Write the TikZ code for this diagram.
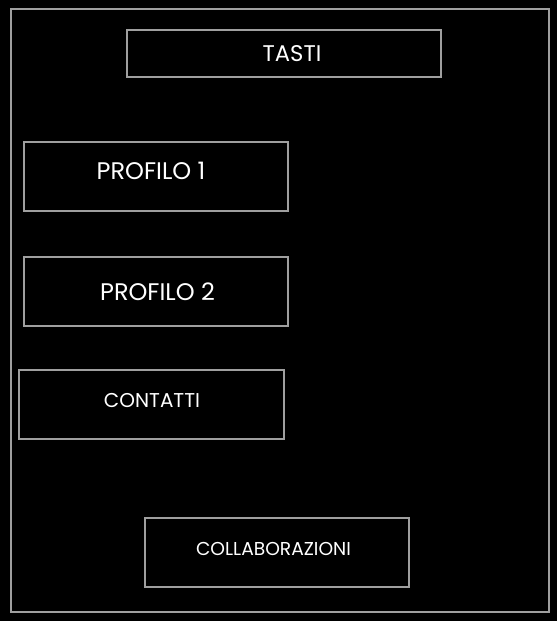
\documentclass[tikz,border=0pt]{standalone}
\usepackage{fontspec}
\setmainfont{Poppins}
\usepackage{tikz}
\usetikzlibrary{positioning}

\begin{document}
\begin{tikzpicture}[x=0.75pt,y=-0.75pt,
  box/.style={draw=gray!75, line width=1.5pt, rectangle, inner sep=0pt},
  lbl/.style={text=white, inner sep=0pt}]
  \fill[black] (0,0) rectangle (557,621);
  \useasboundingbox (0,0) rectangle (557,621);
  \node[box, minimum width=403.5pt, minimum height=452.25pt] (frame) at (280,310.5) {};
  \node[box, minimum width=235.5pt, minimum height=35.25pt] (tasti) at (284,53.5) {};
  \node[box, minimum width=198pt, minimum height=51.75pt] (prof1) at (156,176.5) {};
  \node[box, minimum width=198pt, minimum height=51.75pt] (prof2) at (156,291.5) {};
  \node[box, minimum width=198.75pt, minimum height=51.75pt] (cont) at (151.5,404.5) {};
  \node[box, minimum width=198pt, minimum height=51.75pt] (collab) at (277,552.5) {};
  \node[lbl, font=\fontsize{17}{20}\selectfont] (tasti-t) at (292,54) {TASTI};
  \node[lbl, font=\fontsize{18}{21}\selectfont] (prof1-t) at (151,171) {PROFILO 1};
  \node[lbl, font=\fontsize{18}{21}\selectfont] (prof2-t) at (157.5,292) {PROFILO 2};
  \node[lbl, font=\fontsize{15}{18}\selectfont] (cont-t) at (152,400.5) {CONTATTI};
  \node[lbl, font=\fontsize{14}{17}\selectfont] (collab-t) at (273.5,548.5) {COLLABORAZIONI};
\end{tikzpicture}
\end{document}
